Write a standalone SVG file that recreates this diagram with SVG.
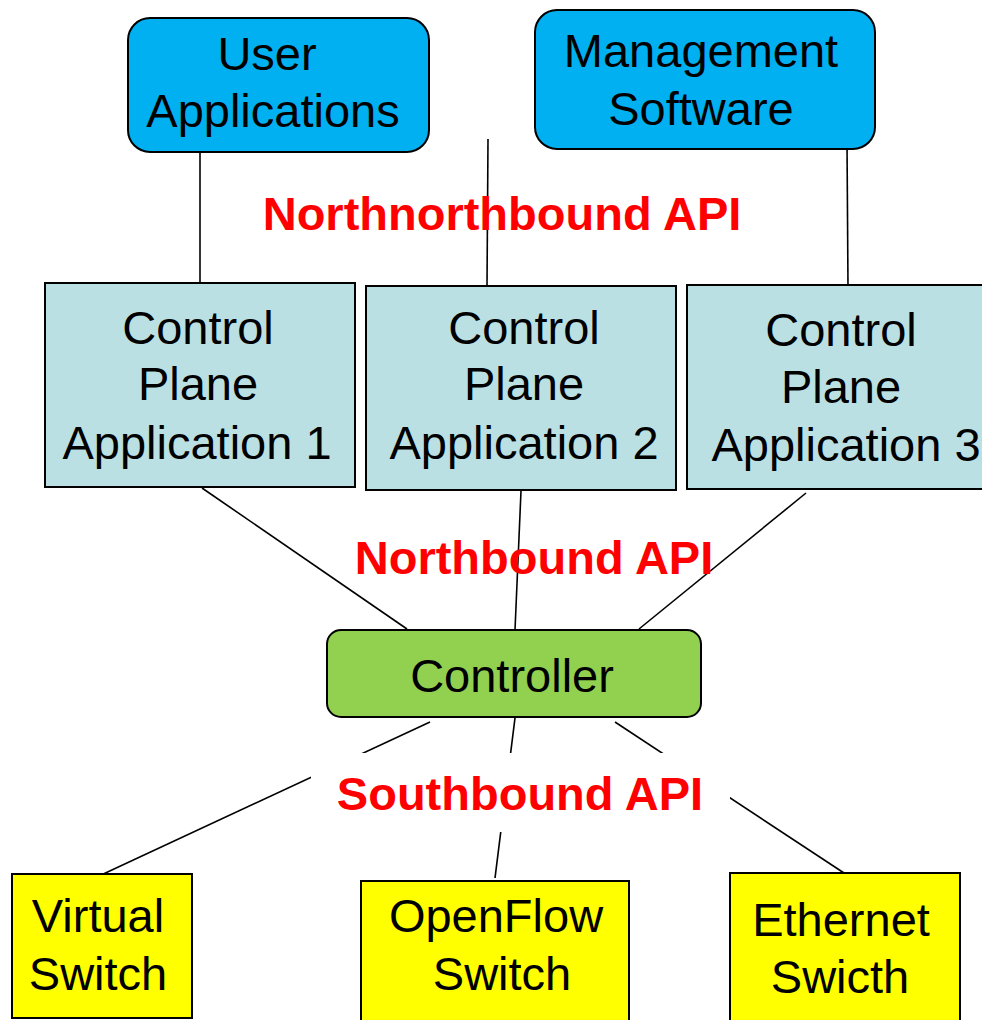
<svg xmlns="http://www.w3.org/2000/svg" width="982" height="1020" viewBox="0 0 982 1020">
  <style>
    .box { stroke: #000; stroke-width: 2; }
    .top { fill: #00B0F0; }
    .app { fill: #BBE0E3; }
    .ctl { fill: #92D050; }
    .sw { fill: #FFFF00; }
    .lbl { font-family: "Liberation Sans", Arial, sans-serif; font-size: 47px; fill: #000; text-anchor: middle; }
    .api { font-family: "Liberation Sans", Arial, sans-serif; font-size: 47px; font-weight: bold; fill: #FF0000; text-anchor: middle; }
    .conn line { stroke: #000; stroke-width: 1.6; }
  </style>
  <rect width="982" height="1020" fill="#fff"/>

  <!-- links between layers -->
  <g id="connectors" class="conn">
    <line x1="200" y1="152" x2="200" y2="283"/>
    <line x1="488" y1="139" x2="487" y2="286"/>
    <line x1="847" y1="142" x2="848" y2="288"/>
    <line x1="202" y1="488" x2="407" y2="629"/>
    <line x1="521" y1="491" x2="515" y2="630"/>
    <line x1="806" y1="493" x2="639" y2="629"/>
    <line x1="430" y1="722" x2="99" y2="876"/>
    <line x1="515" y1="718" x2="495" y2="878"/>
    <line x1="615" y1="722" x2="844" y2="873"/>
  </g>

  <g id="user-applications">
    <rect class="box top" x="128" y="18" width="301" height="134" rx="22"/>
    <text class="lbl" x="267" y="70">User</text>
    <text class="lbl" x="273" y="127">Applications</text>
  </g>

  <g id="management-software">
    <rect class="box top" x="535" y="10" width="340" height="139" rx="22"/>
    <text class="lbl" x="701" y="67">Management</text>
    <text class="lbl" x="701" y="125">Software</text>
  </g>

  <text id="northnorthbound-api" class="api" x="502" y="230">Northnorthbound API</text>

  <g id="control-plane-app-1">
    <rect class="box app" x="45" y="283" width="310" height="204"/>
    <text class="lbl" x="198" y="344">Control</text>
    <text class="lbl" x="198" y="400">Plane</text>
    <text class="lbl" x="197" y="459">Application 1</text>
  </g>

  <g id="control-plane-app-2">
    <rect class="box app" x="366" y="286" width="310" height="204"/>
    <text class="lbl" x="524" y="344">Control</text>
    <text class="lbl" x="524" y="400">Plane</text>
    <text class="lbl" x="524" y="459">Application 2</text>
  </g>

  <g id="control-plane-app-3">
    <rect class="box app" x="687" y="285" width="310" height="204"/>
    <text class="lbl" x="841" y="346">Control</text>
    <text class="lbl" x="841" y="403">Plane</text>
    <text class="lbl" x="846" y="461">Application 3</text>
  </g>

  <text id="northbound-api" class="api" x="534" y="574">Northbound API</text>

  <g id="controller">
    <rect class="box ctl" x="327" y="630" width="374" height="87" rx="14"/>
    <text class="lbl" x="512" y="692">Controller</text>
  </g>

  <g id="southbound-api">
    <rect x="311" y="753" width="419" height="79" fill="#fff"/>
    <text class="api" x="520" y="810">Southbound API</text>
  </g>

  <g id="virtual-switch">
    <rect class="box sw" x="12" y="874" width="180" height="144"/>
    <text class="lbl" x="98" y="932">Virtual</text>
    <text class="lbl" x="98" y="990">Switch</text>
  </g>

  <g id="openflow-switch">
    <rect class="box sw" x="361" y="881" width="268" height="150"/>
    <text class="lbl" x="496" y="932">OpenFlow</text>
    <text class="lbl" x="502" y="990">Switch</text>
  </g>

  <g id="ethernet-switch">
    <rect class="box sw" x="730" y="873" width="230" height="160"/>
    <text class="lbl" x="841" y="936">Ethernet</text>
    <text class="lbl" x="840" y="993">Swicth</text>
  </g>
</svg>
